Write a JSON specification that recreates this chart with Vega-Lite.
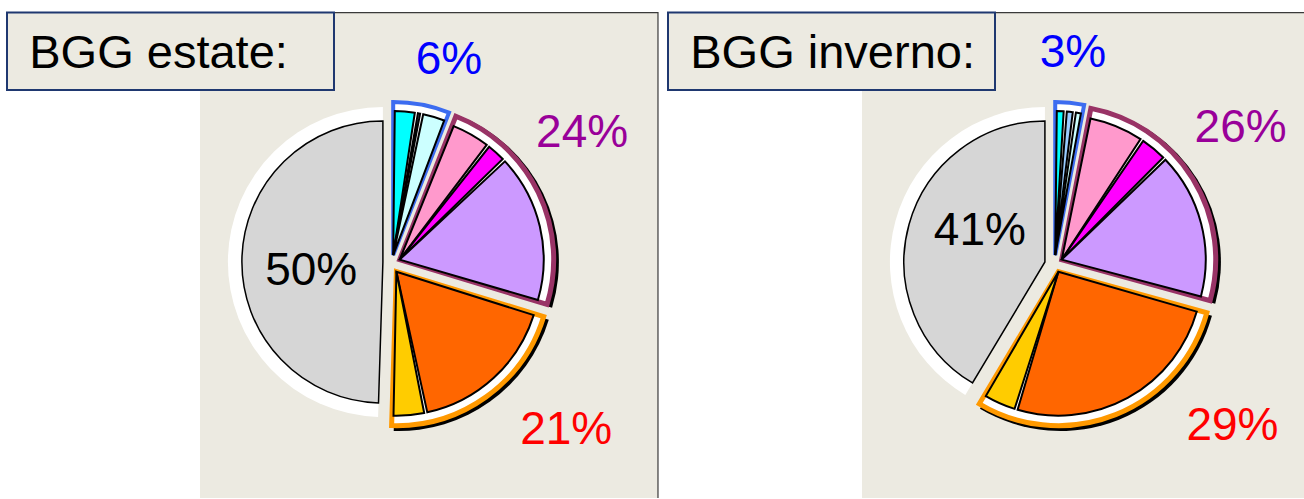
{
  "$schema": "https://vega.github.io/schema/vega-lite/v6.json",
  "width": 1304,
  "height": 499,
  "autosize": {"type": "fit", "contains": "padding"},
  "padding": {"left": 0, "right": 0, "top": 11, "bottom": 0},
  "background": "white",
  "config": {"view": {"stroke": null}},
  "datasets": {
    "titles": [
      {"season": "estate", "title": "BGG estate:"},
      {"season": "inverno", "title": "BGG inverno:"}
    ],
    "groups": [
      {"season": "estate", "group": "blue", "value": 6, "label": "6%"},
      {"season": "estate", "group": "purple", "value": 24, "label": "24%"},
      {"season": "estate", "group": "orange", "value": 21, "label": "21%"},
      {"season": "estate", "group": "gray", "value": 50, "label": "50%"},
      {"season": "inverno", "group": "blue", "value": 3, "label": "3%"},
      {"season": "inverno", "group": "purple", "value": 26, "label": "26%"},
      {"season": "inverno", "group": "orange", "value": 29, "label": "29%"},
      {"season": "inverno", "group": "gray", "value": 41, "label": "41%"}
    ],
    "slices": [
      {"season": "estate", "group": "blue", "slice": "cyan", "value": 2.6},
      {"season": "estate", "group": "blue", "slice": "lightblue", "value": 0.6},
      {"season": "estate", "group": "blue", "slice": "lightcyan", "value": 2.8},
      {"season": "estate", "group": "purple", "slice": "pink", "value": 4.6},
      {"season": "estate", "group": "purple", "slice": "magenta", "value": 2.4},
      {"season": "estate", "group": "purple", "slice": "lavender", "value": 17.0},
      {"season": "estate", "group": "orange", "slice": "orange", "value": 17.2},
      {"season": "estate", "group": "orange", "slice": "yellow", "value": 3.8},
      {"season": "estate", "group": "gray", "slice": "gray", "value": 50},
      {"season": "inverno", "group": "blue", "slice": "cyan", "value": 1.1},
      {"season": "inverno", "group": "blue", "slice": "lightblue", "value": 1.0},
      {"season": "inverno", "group": "blue", "slice": "lightcyan", "value": 0.9},
      {"season": "inverno", "group": "purple", "slice": "pink", "value": 6.3},
      {"season": "inverno", "group": "purple", "slice": "magenta", "value": 3.2},
      {"season": "inverno", "group": "purple", "slice": "lavender", "value": 16.5},
      {"season": "inverno", "group": "orange", "slice": "orange", "value": 25.2},
      {"season": "inverno", "group": "orange", "slice": "yellow", "value": 3.8},
      {"season": "inverno", "group": "gray", "slice": "gray", "value": 41}
    ]
  },
  "resolve": {"scale": {"x": "independent", "y": "independent"}},
  "layer": [
    {
      "data": {"name": "titles"},
      "mark": {"type": "rect", "fill": "#ECEAE1"},
      "encoding": {
        "x": {"field": "season", "type": "nominal", "scale": {"type": "band", "domain": ["estate", "inverno"], "range": [200, 1320], "paddingInner": 0.3082, "paddingOuter": 0}, "axis": null}
      }
    },
    {
      "data": {"name": "titles"},
      "mark": {"type": "rect", "fill": "#3A3A3A"},
      "encoding": {
        "x": {"field": "season", "type": "nominal", "scale": {"type": "band", "domain": ["estate", "inverno"], "range": [200, 1320], "paddingInner": 0.3082, "paddingOuter": 0}, "axis": null},
        "y": {"datum": "edge", "type": "nominal", "scale": {"type": "band", "domain": ["edge"], "range": [0, 1.2], "paddingInner": 0, "paddingOuter": 0}, "axis": null}
      }
    },
    {
      "data": {"name": "titles"},
      "mark": {"type": "rule", "color": "#3A3A3A", "strokeWidth": 1.2},
      "encoding": {
        "x": {"field": "season", "type": "nominal", "bandPosition": 1, "scale": {"type": "band", "domain": ["estate", "inverno"], "range": [200, 1320], "paddingInner": 0.3082, "paddingOuter": 0}, "axis": null}
      }
    },
    {
      "data": {"name": "titles"},
      "mark": {"type": "rect", "fill": "#ECEAE1", "stroke": "#1F3870", "strokeWidth": 2},
      "encoding": {
        "x": {"field": "season", "type": "nominal", "scale": {"type": "band", "domain": ["estate", "inverno"], "range": [7, 995], "paddingInner": 0.5053, "paddingOuter": 0}, "axis": null},
        "y": {"datum": "box", "type": "nominal", "scale": {"type": "band", "domain": ["box"], "range": [0.5, 78], "paddingInner": 0, "paddingOuter": 0}, "axis": null}
      }
    },
    {
      "data": {"name": "titles"},
      "mark": {"type": "text", "align": "left", "baseline": "alphabetic", "fontSize": 47, "font": "Liberation Sans", "color": "black"},
      "encoding": {
        "x": {"field": "season", "type": "nominal", "bandPosition": 0.068, "scale": {"type": "band", "domain": ["estate", "inverno"], "range": [7, 995], "paddingInner": 0.5053, "paddingOuter": 0}, "axis": null},
        "y": {"datum": "box", "type": "nominal", "bandPosition": 0.712, "scale": {"type": "band", "domain": ["box"], "range": [0.5, 78], "paddingInner": 0, "paddingOuter": 0}, "axis": null},
        "text": {"field": "title"}
      }
    },
    {
      "data": {"name": "groups"},
      "transform": [
        {"stack": "value", "groupby": ["season"], "offset": "normalize", "as": ["t0", "t1"]},
        {"filter": "datum.group === 'gray'"}
      ],
      "mark": {"type": "arc", "innerRadius": 0, "outerRadius": 155, "fill": "white", "xOffset": -9, "yOffset": 7},
      "encoding": {
        "x": {"field": "season", "type": "nominal", "bandPosition": 0.419, "scale": {"type": "band", "domain": ["estate", "inverno"], "range": [200, 1320], "paddingInner": 0.3082, "paddingOuter": 0}, "axis": null},
        "theta": {"field": "t0", "type": "quantitative", "stack": null, "scale": {"domain": [0, 1]}},
        "theta2": {"field": "t1"}
      }
    },
    {
      "data": {"name": "slices"},
      "transform": [
        {"stack": "value", "groupby": ["season"], "offset": "normalize", "as": ["t0", "t1"]},
        {"filter": "datum.group === 'gray'"}
      ],
      "mark": {"type": "arc", "innerRadius": 0, "outerRadius": 141, "stroke": "black", "strokeWidth": 1.5, "xOffset": -9, "yOffset": 7},
      "encoding": {
        "x": {"field": "season", "type": "nominal", "bandPosition": 0.419, "scale": {"type": "band", "domain": ["estate", "inverno"], "range": [200, 1320], "paddingInner": 0.3082, "paddingOuter": 0}, "axis": null},
        "theta": {"field": "t0", "type": "quantitative", "stack": null, "scale": {"domain": [0, 1]}},
        "theta2": {"field": "t1"},
        "fill": {"field": "slice", "type": "nominal", "legend": null, "scale": {"domain": ["cyan", "lightblue", "lightcyan", "pink", "magenta", "lavender", "orange", "yellow", "gray"], "range": ["#00FFFF", "#99CCFF", "#CCFFFF", "#FF99CC", "#FF00FF", "#CC99FF", "#FF6600", "#FFCC00", "#D6D6D6"]}}
      }
    },
    {
      "data": {"name": "groups"},
      "transform": [
        {"stack": "value", "groupby": ["season"], "offset": "normalize", "as": ["t0", "t1"]},
        {"filter": "datum.group === 'blue'"}
      ],
      "mark": {"type": "arc", "innerRadius": 0, "outerRadius": 153, "fill": "white", "stroke": "#3C6CF0", "strokeWidth": 4, "xOffset": 1.3, "yOffset": 0.1},
      "encoding": {
        "x": {"field": "season", "type": "nominal", "bandPosition": 0.419, "scale": {"type": "band", "domain": ["estate", "inverno"], "range": [200, 1320], "paddingInner": 0.3082, "paddingOuter": 0}, "axis": null},
        "theta": {"field": "t0", "type": "quantitative", "stack": null, "scale": {"domain": [0, 1]}},
        "theta2": {"field": "t1"}
      }
    },
    {
      "data": {"name": "slices"},
      "transform": [
        {"stack": "value", "groupby": ["season"], "offset": "normalize", "as": ["t0", "t1"]},
        {"filter": "datum.group === 'blue'"}
      ],
      "mark": {"type": "arc", "innerRadius": 0, "outerRadius": 144, "stroke": "black", "strokeWidth": 2, "padAngle": 0.022, "xOffset": 1.3, "yOffset": 0.1},
      "encoding": {
        "x": {"field": "season", "type": "nominal", "bandPosition": 0.419, "scale": {"type": "band", "domain": ["estate", "inverno"], "range": [200, 1320], "paddingInner": 0.3082, "paddingOuter": 0}, "axis": null},
        "theta": {"field": "t0", "type": "quantitative", "stack": null, "scale": {"domain": [0, 1]}},
        "theta2": {"field": "t1"},
        "fill": {"field": "slice", "type": "nominal", "legend": null, "scale": {"domain": ["cyan", "lightblue", "lightcyan", "pink", "magenta", "lavender", "orange", "yellow", "gray"], "range": ["#00FFFF", "#99CCFF", "#CCFFFF", "#FF99CC", "#FF00FF", "#CC99FF", "#FF6600", "#FFCC00", "#D6D6D6"]}}
      }
    },
    {
      "data": {"name": "groups"},
      "transform": [
        {"stack": "value", "groupby": ["season"], "offset": "normalize", "as": ["t0", "t1"]},
        {"filter": "datum.group === 'purple'"}
      ],
      "mark": {"type": "arc", "innerRadius": 0, "outerRadius": 157, "fill": "black", "xOffset": 10, "yOffset": 7},
      "encoding": {
        "x": {"field": "season", "type": "nominal", "bandPosition": 0.419, "scale": {"type": "band", "domain": ["estate", "inverno"], "range": [200, 1320], "paddingInner": 0.3082, "paddingOuter": 0}, "axis": null},
        "theta": {"field": "t0", "type": "quantitative", "stack": null, "scale": {"domain": [0, 1]}},
        "theta2": {"field": "t1"}
      }
    },
    {
      "data": {"name": "groups"},
      "transform": [
        {"stack": "value", "groupby": ["season"], "offset": "normalize", "as": ["t0", "t1"]},
        {"filter": "datum.group === 'purple'"}
      ],
      "mark": {"type": "arc", "innerRadius": 0, "outerRadius": 154, "fill": "white", "stroke": "#993366", "strokeWidth": 5, "xOffset": 7.8, "yOffset": 4.6},
      "encoding": {
        "x": {"field": "season", "type": "nominal", "bandPosition": 0.419, "scale": {"type": "band", "domain": ["estate", "inverno"], "range": [200, 1320], "paddingInner": 0.3082, "paddingOuter": 0}, "axis": null},
        "theta": {"field": "t0", "type": "quantitative", "stack": null, "scale": {"domain": [0, 1]}},
        "theta2": {"field": "t1"}
      }
    },
    {
      "data": {"name": "slices"},
      "transform": [
        {"stack": "value", "groupby": ["season"], "offset": "normalize", "as": ["t0", "t1"]},
        {"filter": "datum.group === 'purple'"}
      ],
      "mark": {"type": "arc", "innerRadius": 0, "outerRadius": 144, "stroke": "black", "strokeWidth": 2, "padAngle": 0.022, "xOffset": 7.8, "yOffset": 4.6},
      "encoding": {
        "x": {"field": "season", "type": "nominal", "bandPosition": 0.419, "scale": {"type": "band", "domain": ["estate", "inverno"], "range": [200, 1320], "paddingInner": 0.3082, "paddingOuter": 0}, "axis": null},
        "theta": {"field": "t0", "type": "quantitative", "stack": null, "scale": {"domain": [0, 1]}},
        "theta2": {"field": "t1"},
        "fill": {"field": "slice", "type": "nominal", "legend": null, "scale": {"domain": ["cyan", "lightblue", "lightcyan", "pink", "magenta", "lavender", "orange", "yellow", "gray"], "range": ["#00FFFF", "#99CCFF", "#CCFFFF", "#FF99CC", "#FF00FF", "#CC99FF", "#FF6600", "#FFCC00", "#D6D6D6"]}}
      }
    },
    {
      "data": {"name": "groups"},
      "transform": [
        {"stack": "value", "groupby": ["season"], "offset": "normalize", "as": ["t0", "t1"]},
        {"filter": "datum.group === 'orange'"}
      ],
      "mark": {"type": "arc", "innerRadius": 0, "outerRadius": 157, "fill": "black", "xOffset": 6.7, "yOffset": 19},
      "encoding": {
        "x": {"field": "season", "type": "nominal", "bandPosition": 0.419, "scale": {"type": "band", "domain": ["estate", "inverno"], "range": [200, 1320], "paddingInner": 0.3082, "paddingOuter": 0}, "axis": null},
        "theta": {"field": "t0", "type": "quantitative", "stack": null, "scale": {"domain": [0, 1]}},
        "theta2": {"field": "t1"}
      }
    },
    {
      "data": {"name": "groups"},
      "transform": [
        {"stack": "value", "groupby": ["season"], "offset": "normalize", "as": ["t0", "t1"]},
        {"filter": "datum.group === 'orange'"}
      ],
      "mark": {"type": "arc", "innerRadius": 0, "outerRadius": 154, "fill": "white", "stroke": "#FF9900", "strokeWidth": 5, "xOffset": 4.5, "yOffset": 16.7},
      "encoding": {
        "x": {"field": "season", "type": "nominal", "bandPosition": 0.419, "scale": {"type": "band", "domain": ["estate", "inverno"], "range": [200, 1320], "paddingInner": 0.3082, "paddingOuter": 0}, "axis": null},
        "theta": {"field": "t0", "type": "quantitative", "stack": null, "scale": {"domain": [0, 1]}},
        "theta2": {"field": "t1"}
      }
    },
    {
      "data": {"name": "slices"},
      "transform": [
        {"stack": "value", "groupby": ["season"], "offset": "normalize", "as": ["t0", "t1"]},
        {"filter": "datum.group === 'orange'"}
      ],
      "mark": {"type": "arc", "innerRadius": 0, "outerRadius": 144, "stroke": "black", "strokeWidth": 2, "padAngle": 0.022, "xOffset": 4.5, "yOffset": 16.7},
      "encoding": {
        "x": {"field": "season", "type": "nominal", "bandPosition": 0.419, "scale": {"type": "band", "domain": ["estate", "inverno"], "range": [200, 1320], "paddingInner": 0.3082, "paddingOuter": 0}, "axis": null},
        "theta": {"field": "t0", "type": "quantitative", "stack": null, "scale": {"domain": [0, 1]}},
        "theta2": {"field": "t1"},
        "fill": {"field": "slice", "type": "nominal", "legend": null, "scale": {"domain": ["cyan", "lightblue", "lightcyan", "pink", "magenta", "lavender", "orange", "yellow", "gray"], "range": ["#00FFFF", "#99CCFF", "#CCFFFF", "#FF99CC", "#FF00FF", "#CC99FF", "#FF6600", "#FFCC00", "#D6D6D6"]}}
      }
    },
    {
      "data": {"name": "groups"},
      "transform": [
        {"stack": "value", "groupby": ["season"], "offset": "normalize", "as": ["t0", "t1"]},
        {"filter": "datum.group === 'blue'"}
      ],
      "mark": {"type": "text", "radius": 211.5, "thetaOffset": -0.1, "yOffset": 9, "fontSize": 46, "font": "Liberation Sans", "color": "#0000FF", "align": "center", "baseline": "middle"},
      "encoding": {
        "x": {"field": "season", "type": "nominal", "bandPosition": 0.419, "scale": {"type": "band", "domain": ["estate", "inverno"], "range": [200, 1320], "paddingInner": 0.3082, "paddingOuter": 0}, "axis": null},
        "theta": {"field": "t1", "type": "quantitative", "stack": null, "scale": {"domain": [0, 1]}},
        "text": {"field": "label"}
      }
    },
    {
      "data": {"name": "groups"},
      "transform": [
        {"stack": "value", "groupby": ["season"], "offset": "normalize", "as": ["t0", "t1"]},
        {"filter": "datum.group === 'purple'"}
      ],
      "mark": {"type": "text", "radius": 232, "thetaOffset": -0.905, "yOffset": 11, "fontSize": 46, "font": "Liberation Sans", "color": "#990099", "align": "center", "baseline": "middle"},
      "encoding": {
        "x": {"field": "season", "type": "nominal", "bandPosition": 0.419, "scale": {"type": "band", "domain": ["estate", "inverno"], "range": [200, 1320], "paddingInner": 0.3082, "paddingOuter": 0}, "axis": null},
        "theta": {"field": "t1", "type": "quantitative", "stack": null, "scale": {"domain": [0, 1]}},
        "text": {"field": "label"}
      }
    },
    {
      "data": {"name": "groups"},
      "transform": [
        {"stack": "value", "groupby": ["season"], "offset": "normalize", "as": ["t0", "t1"]},
        {"filter": "datum.group === 'orange'"}
      ],
      "mark": {"type": "text", "radius": 241, "thetaOffset": 0.467, "yOffset": 9, "fontSize": 46, "font": "Liberation Sans", "color": "#FF0000", "align": "center", "baseline": "middle"},
      "encoding": {
        "x": {"field": "season", "type": "nominal", "bandPosition": 0.419, "scale": {"type": "band", "domain": ["estate", "inverno"], "range": [200, 1320], "paddingInner": 0.3082, "paddingOuter": 0}, "axis": null},
        "theta": {"field": "t0", "type": "quantitative", "stack": null, "scale": {"domain": [0, 1]}},
        "text": {"field": "label"}
      }
    },
    {
      "data": {"name": "groups"},
      "transform": [
        {"stack": "value", "groupby": ["season"], "offset": "normalize", "as": ["t0", "t1"]},
        {"filter": "datum.group === 'gray'"}
      ],
      "mark": {"type": "text", "radius": 81, "thetaOffset": 1.448, "yOffset": 9, "fontSize": 46, "font": "Liberation Sans", "color": "black", "align": "center", "baseline": "middle"},
      "encoding": {
        "x": {"field": "season", "type": "nominal", "bandPosition": 0.419, "scale": {"type": "band", "domain": ["estate", "inverno"], "range": [200, 1320], "paddingInner": 0.3082, "paddingOuter": 0}, "axis": null},
        "theta": {"field": "t0", "type": "quantitative", "stack": null, "scale": {"domain": [0, 1]}},
        "text": {"field": "label"}
      }
    }
  ]
}
